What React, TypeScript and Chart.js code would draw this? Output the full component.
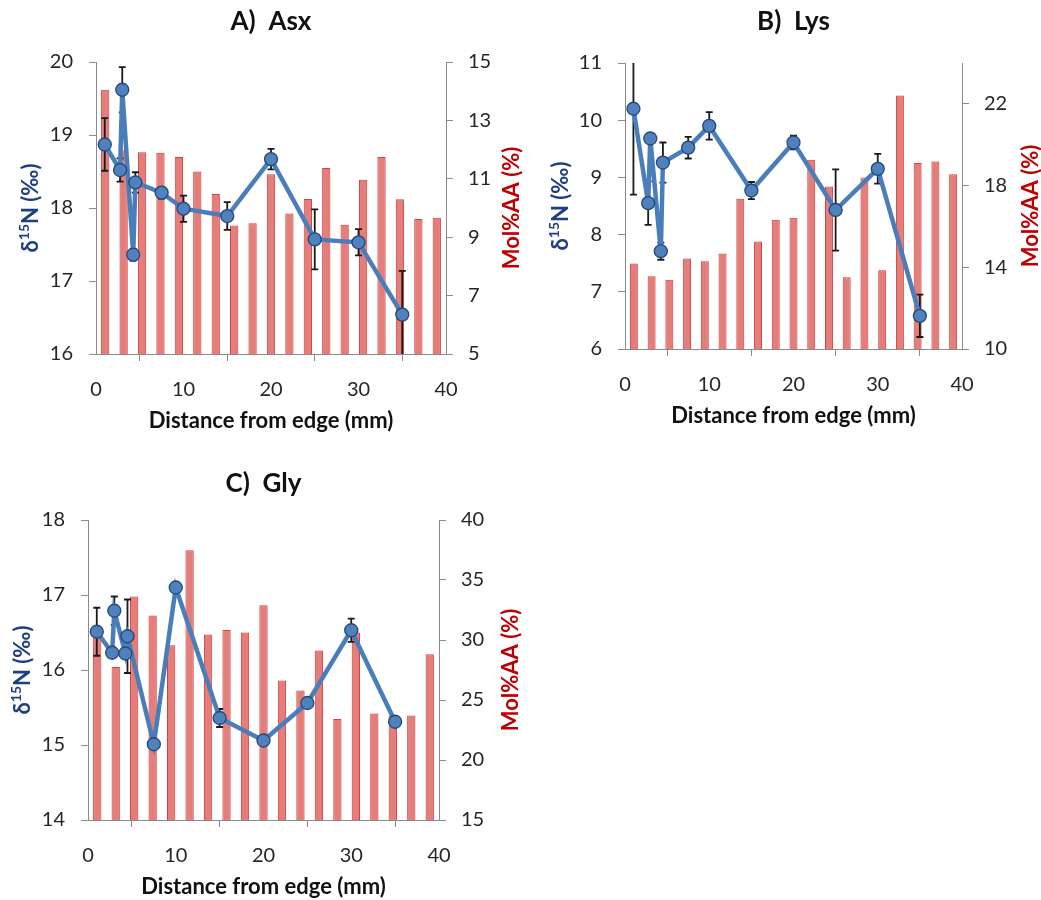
import React, { useEffect, useRef } from 'react';
import { Chart, registerables } from 'chart.js';

Chart.register(...registerables);

// Distance from edge (mm) for the δ15N line series
const distances = [1, 2.75, 3, 4.25, 4.5, 7.5, 10, 15, 20, 25, 30, 35];
// Mol%AA bars are 19 evenly spaced samples across the x range
const sampleLabels = ['1', '2', '3', '4', '5', '6', '7', '8', '9', '10', '11', '12', '13', '14', '15', '16', '17', '18', '19'];

// A) Asx
const asxD15N = [18.87, 18.52, 19.62, 17.36, 18.35, 18.21, 17.99, 17.89, 18.67, 17.57, 17.53, 16.54];
const asxErr = [0.36, 0.16, 0.31, 0.08, 0.14, 0.08, 0.18, 0.19, 0.14, 0.41, 0.18, 0.6];
const asxMol = [14.05, 11.98, 11.91, 11.89, 11.75, 11.25, 10.48, 9.4, 9.48, 11.16, 9.81, 10.31, 11.37, 9.43, 10.97, 11.75, 10.3, 9.62, 9.67];
const asxRightTicks = [5, 7, 9, 11, 13, 15];

// B) Lys
const lysD15N = [10.2, 8.55, 9.68, 7.71, 9.26, 9.52, 9.9, 8.77, 9.61, 8.43, 9.15, 6.58];
const lysErr = [1.5, 0.38, 0.05, 0.15, 0.35, 0.19, 0.24, 0.15, 0.12, 0.71, 0.26, 0.37];
const lysMol = [14.18, 13.56, 13.39, 14.43, 14.3, 14.67, 17.36, 15.26, 16.33, 16.43, 19.26, 17.95, 13.51, 18.39, 13.85, 22.41, 19.1, 19.18, 18.56];
const lysRightTicks = [10, 14, 18, 22];

// C) Gly
const glyD15N = [16.51, 16.23, 16.79, 16.22, 16.45, 15.01, 17.1, 15.36, 15.06, 15.56, 16.53, 15.31];
const glyErr = [0.32, 0.03, 0.19, 0.03, 0.49, 0.02, 0.02, 0.12, 0.02, 0.03, 0.155, 0.02];
const glyMol = [30.3, 27.74, 33.62, 32.04, 29.57, 37.48, 30.46, 30.84, 30.62, 32.9, 26.63, 25.79, 29.12, 23.41, 30.62, 23.88, 23.7, 23.71, 28.82];
const glyRightTicks = [15, 20, 25, 30, 35, 40];

const FONT = "Lato, 'DejaVu Sans', sans-serif";

type Panel = {
  key: string;
  title: string;
  d15n: number[];
  err: number[];
  mol: number[];
  yMin: number; yMax: number; yStep: number;
  rMin: number; rMax: number; rTicks: number[];
  canvas: { left: number; top: number; w: number; h: number };
  plot: { l: number; r: number; t: number; b: number };
  titleOffset: number;
  leftTitleOffset: number;
  rightTitleOffset: number;
};

const panels: Panel[] = [
  {
    key: 'A', title: 'A)  Asx', d15n: asxD15N, err: asxErr, mol: asxMol,
    yMin: 16, yMax: 20, yStep: 1, rMin: 5, rMax: 15, rTicks: asxRightTicks,
    canvas: { left: 0, top: 0, w: 530, h: 440 },
    plot: { l: 96, r: 446, t: 62, b: 354 },
    titleOffset: 40, leftTitleOffset: 65, rightTitleOffset: 66,
  },
  {
    key: 'B', title: 'B)  Lys', d15n: lysD15N, err: lysErr, mol: lysMol,
    yMin: 6, yMax: 11, yStep: 1, rMin: 10, rMax: 24, rTicks: lysRightTicks,
    canvas: { left: 530, top: 0, w: 511, h: 440 },
    plot: { l: 625, r: 962, t: 63, b: 349 },
    titleOffset: 41, leftTitleOffset: 64, rightTitleOffset: 69,
  },
  {
    key: 'C', title: 'C)  Gly', d15n: glyD15N, err: glyErr, mol: glyMol,
    yMin: 14, yMax: 18, yStep: 1, rMin: 15, rMax: 40, rTicks: glyRightTicks,
    canvas: { left: 0, top: 460, w: 530, h: 440 },
    plot: { l: 88, r: 439, t: 520, b: 820 },
    titleOffset: 36, leftTitleOffset: 65, rightTitleOffset: 72,
  },
];

const AXIS_GRAY = '#8a8a8a';
const TEXT = '#262626';
const X_AXIS_H = 80;

function decoPlugin(p: Panel) {
  return {
    id: 'deco' + p.key,
    beforeDatasetDraw(chart: any, args: any) {
      if (args.index !== 0) return;
      const { ctx, chartArea, scales } = chart;
      ctx.save();
      ctx.beginPath();
      ctx.rect(chartArea.left, chartArea.top, chartArea.right - chartArea.left, chartArea.bottom - chartArea.top);
      ctx.clip();
      ctx.strokeStyle = '#1a1a1a';
      ctx.lineWidth = 1.8;
      p.d15n.forEach((v, i) => {
        const e = p.err[i];
        const x = scales.x.getPixelForValue(distances[i]);
        const yT = scales.y.getPixelForValue(v + e);
        const yB = scales.y.getPixelForValue(v - e);
        ctx.beginPath();
        ctx.moveTo(x, yT); ctx.lineTo(x, yB);
        ctx.moveTo(x - 3.5, yT); ctx.lineTo(x + 3.5, yT);
        ctx.moveTo(x - 3.5, yB); ctx.lineTo(x + 3.5, yB);
        ctx.stroke();
      });
      ctx.restore();
    },
    afterDraw(chart: any) {
      const { ctx, chartArea } = chart;
      const cy = (chartArea.top + chartArea.bottom) / 2;
      ctx.save();
      // panel title
      ctx.fillStyle = '#111';
      ctx.font = `bold 26px ${FONT}`;
      ctx.textAlign = 'center';
      ctx.textBaseline = 'middle';
      ctx.fillText(p.title, (chartArea.left + chartArea.right) / 2, chartArea.top - p.titleOffset);

      // left axis title: δ15N (‰) with superscript
      ctx.save();
      ctx.translate(chartArea.left - p.leftTitleOffset, cy);
      ctx.rotate(-Math.PI / 2);
      ctx.fillStyle = '#1F3F80';
      ctx.textAlign = 'left';
      ctx.textBaseline = 'middle';
      const big = `bold 22px ${FONT}`;
      const small = `bold 14px ${FONT}`;
      ctx.font = big;
      const w1 = ctx.measureText('δ').width;
      const w3 = ctx.measureText('N (‰)').width;
      ctx.font = small;
      const w2 = ctx.measureText('15').width;
      let x0 = -(w1 + w2 + w3) / 2;
      ctx.font = big;
      ctx.fillText('δ', x0, 0);
      x0 += w1;
      ctx.font = small;
      ctx.fillText('15', x0, -7);
      x0 += w2;
      ctx.font = big;
      ctx.fillText('N (‰)', x0, 0);
      ctx.restore();

      // right axis title
      ctx.save();
      ctx.translate(chartArea.right + p.rightTitleOffset, cy);
      ctx.rotate(-Math.PI / 2);
      ctx.fillStyle = '#C00000';
      ctx.font = `bold 22px ${FONT}`;
      ctx.textAlign = 'center';
      ctx.textBaseline = 'middle';
      ctx.fillText('Mol%AA (%)', 0, 0);
      ctx.restore();

      ctx.restore();
    },
  };
}

function makeConfig(p: Panel): any {
  const c = p.canvas;
  const leftW = p.plot.l - c.left;
  const rightW = c.left + c.w - p.plot.r;
  const padTop = p.plot.t - c.top;
  const padBottom = c.top + c.h - p.plot.b - X_AXIS_H;
  const tickFont = { family: FONT, size: 20 };
  const axisGrid = { display: true, drawOnChartArea: false, drawTicks: true, tickLength: 7, color: AXIS_GRAY, lineWidth: 1 };
  return {
    type: 'bar',
    data: {
      labels: sampleLabels,
      datasets: [
        {
          type: 'line',
          label: 'δ15N',
          data: p.d15n.map((v, i) => ({ x: distances[i], y: v })),
          xAxisID: 'x',
          yAxisID: 'y',
          borderColor: '#4A7EBB',
          borderWidth: 4.5,
          pointRadius: 6.5,
          pointBackgroundColor: '#4F81BD',
          pointBorderColor: '#25467A',
          pointBorderWidth: 1.3,
          tension: 0,
          order: 1,
        },
        {
          type: 'bar',
          label: 'Mol%AA',
          data: p.mol,
          xAxisID: 'x2',
          yAxisID: 'y2',
          backgroundColor: 'rgba(217, 83, 79, 0.75)',
          borderColor: '#D64040',
          borderWidth: 1,
          barPercentage: 0.45,
          categoryPercentage: 1,
          grouped: false,
          order: 2,
        },
      ],
    },
    options: {
      responsive: false,
      maintainAspectRatio: false,
      animation: false,
      devicePixelRatio: 1,
      layout: { padding: { left: 0, right: 0, top: padTop, bottom: padBottom } },
      plugins: { legend: { display: false }, tooltip: { enabled: false }, title: { display: false } },
      scales: {
        x: {
          type: 'linear',
          position: 'bottom',
          min: 0, max: 40,
          offset: false,
          ticks: { stepSize: 10, font: tickFont, color: TEXT, padding: 17, maxRotation: 0 },
          grid: axisGrid,
          border: { display: true, color: AXIS_GRAY, width: 1 },
          title: { display: true, text: 'Distance from edge (mm)', font: { family: FONT, size: 22, weight: 'bold' }, color: '#111', padding: { top: 0, bottom: 0 } },
          afterFit: (s: any) => { s.height = X_AXIS_H; },
        },
        x2: {
          type: 'category',
          display: false,
          offset: true,
          grid: { display: false },
        },
        y: {
          type: 'linear',
          position: 'left',
          min: p.yMin, max: p.yMax,
          ticks: { stepSize: p.yStep, font: tickFont, color: TEXT, padding: 16 },
          grid: axisGrid,
          border: { display: true, color: AXIS_GRAY, width: 1 },
          afterFit: (s: any) => { s.width = leftW; },
        },
        y2: {
          type: 'linear',
          position: 'right',
          min: p.rMin, max: p.rMax,
          ticks: { font: tickFont, color: TEXT, padding: 15 },
          afterBuildTicks: (s: any) => { s.ticks = p.rTicks.map((v) => ({ value: v })); },
          grid: axisGrid,
          border: { display: true, color: AXIS_GRAY, width: 1 },
          afterFit: (s: any) => { s.width = rightW; },
        },
      },
    },
    plugins: [decoPlugin(p)],
  };
}

function PanelChart({ p }: { p: Panel }) {
  const ref = useRef<HTMLCanvasElement | null>(null);
  useEffect(() => {
    if (!ref.current) return;
    const chart = new Chart(ref.current, makeConfig(p));
    return () => chart.destroy();
  }, [p]);
  return (
    <canvas
      ref={ref}
      width={p.canvas.w}
      height={p.canvas.h}
      style={{ position: 'absolute', left: p.canvas.left, top: p.canvas.top, width: p.canvas.w, height: p.canvas.h }}
    />
  );
}

export default function App() {
  return (
    <div style={{ position: 'absolute', left: 0, top: 0, width: 1041, height: 900, background: '#fff' }}>
      {panels.map((p) => (
        <PanelChart key={p.key} p={p} />
      ))}
    </div>
  );
}
